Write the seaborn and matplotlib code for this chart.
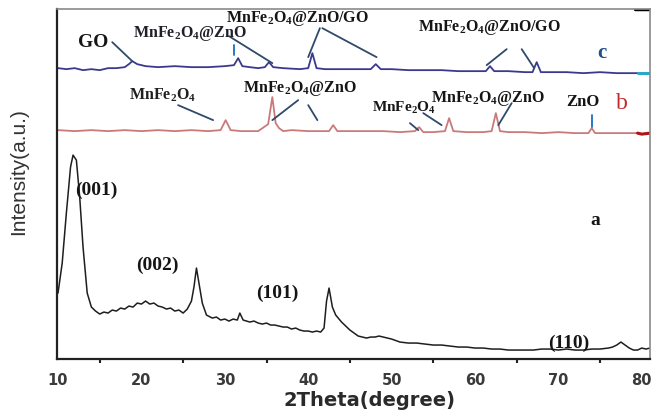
import matplotlib
matplotlib.use("Agg")
import matplotlib.pyplot as plt
import seaborn as sns

# XRD pattern values (intensity in arbitrary units)
a_theta = [10, 10.5, 11, 11.5, 11.8, 12.2, 12.6, 13, 13.5, 14, 14.5, 15, 15.5, 16, 16.5, 17, 17.5,
           18, 18.5, 19, 19.5, 20, 20.5, 21, 21.5, 22, 22.5, 23, 23.5, 24, 24.5, 25, 25.5, 26,
           26.3, 26.6, 26.9, 27.3, 27.8, 28.5, 29, 29.5, 30, 30.5, 31, 31.5, 31.8, 32.2, 32.6,
           33, 33.5, 34, 34.5, 35, 35.5, 36, 36.5, 37, 37.5, 38, 38.5, 39, 39.5, 40, 40.5, 41,
           41.5, 41.9, 42.2, 42.5, 42.9, 43.3, 44, 44.5, 45, 45.5, 46, 46.5, 47, 47.5, 48, 48.5,
           49, 49.5, 50, 51, 52, 53, 54, 55, 56, 57, 58, 59, 60, 61, 62, 63, 64, 65, 66, 67, 68,
           69, 70, 71, 72, 73, 74, 75, 76, 76.5, 77, 77.5, 78, 78.5, 79, 79.5, 80, 80.5, 81]
a_int = [66, 96, 146, 192, 204, 199, 162, 112, 66, 52, 48, 45, 47, 46, 49, 48, 51,
         50, 53, 52, 56, 55, 58, 55, 56, 53, 52, 50, 51, 48, 49, 46, 50, 58,
         72, 91, 76, 56, 44, 41, 42, 39, 40, 38, 40, 39, 46, 39, 38,
         37, 38, 36, 35, 36, 34, 34, 33, 32, 32, 30, 31, 29, 28, 28, 27, 28,
         27, 31, 58, 71, 52, 44, 37, 33, 29, 26, 23, 22, 21, 22, 22, 23,
         22, 21, 20, 17, 16, 16, 15, 14, 14, 13, 12, 12, 11, 11, 10, 10, 9, 9, 9, 9, 10,
         10, 9, 10, 9, 9, 10, 10, 11, 12, 14, 17, 14, 11, 9, 9, 11, 10, 11]

b_theta = [10, 12, 14, 16, 18, 20, 22, 24, 26, 28, 29.5, 30.1, 30.7, 32, 34, 35.2, 35.7, 36.1,
           36.5, 37, 38, 40, 42.5, 43.0, 43.5, 45, 47, 49, 51, 52.8, 53.3, 53.8, 55, 56.4, 56.9,
           57.4, 59, 61, 62.0, 62.5, 63.0, 64, 66, 68, 70, 72, 73.6, 74.0, 74.4, 76, 78, 79.5,
           80, 81]
b_int = [229, 228, 229, 228, 229, 228, 229, 228, 229, 228, 229, 239, 229, 228, 228, 235, 262, 236,
         231, 228, 229, 228, 228, 234, 228, 228, 228, 228, 227, 228, 232, 227, 227, 228, 241,
         228, 227, 227, 228, 246, 228, 227, 227, 226, 227, 226, 226, 231, 226, 226, 226, 226,
         225, 226]

c_theta = [10, 11, 12, 13, 14, 15, 16, 17, 18, 18.5, 18.9, 19.5, 20.5, 22, 24, 26, 28, 30, 31.1,
           31.6, 32.1, 33, 34, 34.8, 35.3, 35.8, 37, 39, 40.0, 40.5, 41.0, 42, 44, 46, 47.5, 48.1,
           48.7, 50, 52, 54, 56, 58, 60, 61.3, 61.8, 62.3, 64, 66, 66.9, 67.4, 67.9, 69, 71, 73,
           75, 77, 79, 79.5, 80, 81]
c_int = [291, 290, 291, 289, 290, 289, 291, 291, 292, 295, 298, 295, 293, 292, 293, 292, 292, 293, 294,
         301, 293, 292, 291, 292, 297, 292, 291, 290, 291, 306, 291, 290, 290, 290, 290, 295,
         290, 290, 289, 289, 289, 288, 288, 288, 293, 288, 288, 287, 287, 297, 287, 287, 287, 286,
         287, 286, 286, 286, 286, 286]

# peak labels: (text, 2theta, intensity, size, colour)
labels = [
    ("GO", 14.2, 317, 14, "#151515"),
    ("MnFe$_2$O$_4$@ZnO", 25.8, 326, 11.5, "#202028"),
    ("MnFe$_2$O$_4$@ZnO/GO", 38.7, 341, 11.5, "#151515"),
    ("MnFe$_2$O$_4$@ZnO/GO", 61.7, 332, 11.5, "#151515"),
    ("MnFe$_2$O$_4$", 22.5, 264, 11.5, "#202020"),
    ("MnFe$_2$O$_4$@ZnO", 39.0, 271, 11.5, "#151515"),
    ("MnFe$_2$O$_4$", 51.5, 251, 11, "#151515"),
    ("MnFe$_2$O$_4$@ZnO", 61.6, 261, 11.5, "#151515"),
    ("ZnO", 73.0, 257, 12, "#151515"),
    ("(001)", 14.6, 169, 14, "#151515"),
    ("(002)", 21.9, 94, 14, "#151515"),
    ("(101)", 36.3, 66, 14, "#151515"),
    ("(110)", 71.2, 16, 14, "#151515"),
]

# leader lines from labels to peaks: (x0, y0, x1, y1, colour)
leaders = [
    (16.5, 317, 18.9, 298, "#2f4a6a"),
    (31.1, 314, 31.1, 304, "#1a6cc0"),
    (30.5, 323, 35.7, 296, "#2f4a6a"),
    (41.4, 331, 40.0, 302, "#2f4a6a"),
    (41.7, 331, 48.2, 302, "#2f4a6a"),
    (63.8, 310, 61.4, 294, "#2f4a6a"),
    (65.6, 310, 67.1, 291, "#2f4a6a"),
    (24.4, 254, 28.6, 239, "#2f4a6a"),
    (38.8, 259, 35.7, 239, "#2f4a6a"),
    (40.0, 254, 41.1, 239, "#2f4a6a"),
    (52.2, 236, 53.2, 229, "#2f4a6a"),
    (53.8, 246, 56.0, 234, "#2f4a6a"),
    (64.4, 256, 62.8, 234, "#2f4a6a"),
    (74.0, 244, 74.0, 232, "#1a6cc0"),
]

sns.set_style("white")
plt.rcParams["font.family"] = ["Liberation Serif", "DejaVu Serif"]
plt.rcParams["mathtext.fontset"] = "custom"
plt.rcParams["mathtext.rm"] = "Liberation Serif:bold"
plt.rcParams["mathtext.it"] = "Liberation Serif:bold"
plt.rcParams["mathtext.bf"] = "Liberation Serif:bold"

fig = plt.figure(figsize=(6.6, 4.17), dpi=100)
ax = fig.add_axes([0.0864, 0.139, 0.8986, 0.839])

sns.lineplot(x=a_theta, y=a_int, color="#1e1e1e", lw=1.1, ax=ax)
sns.lineplot(x=b_theta, y=b_int, color="#c97a7a", lw=1.3, ax=ax)
sns.lineplot(x=c_theta, y=c_int, color="#3a3a8c", lw=1.3, ax=ax)
# coloured line ends as in the original scan
sns.lineplot(x=b_theta[-3:], y=b_int[-3:], color="#b01515", lw=2.2, ax=ax)
sns.lineplot(x=c_theta[-3:], y=c_int[-3:], color="#2aa8c8", lw=2.2, ax=ax)

for x0, y0, x1, y1, col in leaders:
    ax.plot([x0, x1], [y0, y1], color=col, lw=1.3)

for txt, x, y, size, col in labels:
    ax.text(x, y, txt, fontsize=size, fontweight="bold", color=col, ha="center", va="center")

ax.text(75.2, 306, "c", fontsize=15, fontweight="bold", color="#1f4e8c", ha="center", va="center")
ax.text(77.6, 256, "b", fontsize=17, color="#c02a2a", ha="center", va="center")
ax.text(74.4, 139, "a", fontsize=14, fontweight="bold", color="#151515", ha="center", va="center",
        bbox=dict(facecolor="white", edgecolor="none", pad=4))

ax.set_xlim(9.88, 81.0)
ax.set_ylim(0, 350)
ax.set_xticks([10, 20, 30, 40, 50, 60, 70, 80])
ax.set_xticks([15, 25, 35, 45, 55, 65, 75], minor=True)
ax.set_yticks([])
ax.tick_params(axis="x", which="major", direction="out", length=5, width=1.5, color="#222222",
               pad=5, labelsize=10.5, labelcolor="#3a3a3a")
ax.tick_params(axis="x", which="minor", direction="out", length=3, width=1.5, color="#222222",
               bottom=True)
for lab in ax.get_xticklabels():
    lab.set_fontfamily("DejaVu Sans")
    lab.set_fontweight("bold")

ax.set_xlabel("2Theta(degree)", fontfamily="DejaVu Sans", fontweight="bold", fontsize=14,
              color="#2a2a2a")
ax.xaxis.set_label_coords(0.527, -0.092)
ax.set_ylabel("Intensity(a.u.)", fontfamily="Liberation Sans", fontsize=15, color="#333333")
ax.yaxis.set_label_coords(-0.048, 0.537)

for side in ["left", "bottom"]:
    ax.spines[side].set_color("#222222")
    ax.spines[side].set_linewidth(1.6)
for side in ["top", "right"]:
    ax.spines[side].set_color("#8a8a8a")
    ax.spines[side].set_linewidth(1.2)
# small dark mark at top right corner
ax.axhline(350, xmin=0.975, xmax=1.0, color="black", lw=2.5)

fig.savefig("out.png", dpi=100)
